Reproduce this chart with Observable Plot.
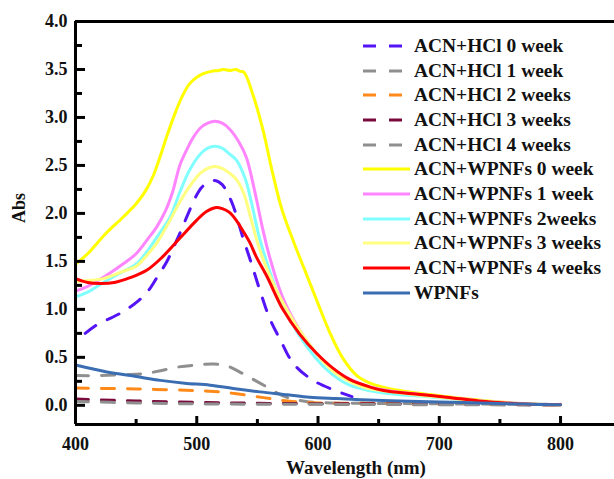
<!DOCTYPE html>
<html><head><meta charset="utf-8">
<script src="https://cdn.jsdelivr.net/npm/d3@7"></script>
<script src="https://cdn.jsdelivr.net/npm/@observablehq/plot@0.6"></script>
<style>
body{margin:0;background:#fff;}
#wrap{position:relative;width:614px;height:479px;overflow:hidden;background:#fff;}
.row{position:absolute;height:24px;display:flex;align-items:center;font:bold 18px "Liberation Serif",serif;color:#111;white-space:nowrap;}
.row svg{margin-right:4px;flex:none;}
.row span{display:inline-block;transform:scaleX(1.08);transform-origin:left center;}
</style></head><body><div id="wrap"></div>
<script>
// ---- data ----
const seriesNames = ["ACN+HCl 0 week","ACN+HCl 1 week","ACN+HCl 2 weeks","ACN+HCl 3 weeks","ACN+HCl 4 weeks",
  "ACN+WPNFs 0 week","ACN+WPNFs 1 week","ACN+WPNFs 2weeks","ACN+WPNFs 3 weeks","ACN+WPNFs 4 weeks","WPNFs"];
const seriesColors = ["#5514f5","#8f8f8f","#ff8a1a","#7a0a3c","#8f8f8f",
  "#ffff00","#ff85ff","#80ffff","#ffff80","#ff0000","#3b6db3"];
const seriesDashed = [true,true,true,true,true,false,false,false,false,false,false];

const hcl0_nm  = [408,419,431,441,452,461,468,475,481,487,493,499,504,510,516,521,525,530,534,538,545,552,560,569,580,596,613,628];
const hcl0_abs = [0.75,0.85,0.92,0.99,1.09,1.21,1.35,1.49,1.65,1.82,2.00,2.17,2.27,2.33,2.34,2.30,2.22,2.08,1.92,1.75,1.48,1.20,0.91,0.68,0.43,0.26,0.16,0.09];

const hcl1_nm  = [400,420,440,456,470,485,500,514,525,538,548,558,566,575,590,610,650,700,750,800];
const hcl1_abs = [0.31,0.31,0.32,0.33,0.36,0.40,0.42,0.43,0.41,0.33,0.26,0.19,0.13,0.08,0.04,0.025,0.02,0.015,0.012,0.01];

const hcl2_nm  = [400,450,497,514,533,555,575,600,650,700,750,800];
const hcl2_abs = [0.18,0.17,0.155,0.145,0.12,0.08,0.045,0.025,0.02,0.015,0.01,0.005];

const hcl3_nm  = [400,450,505,560,650,800];
const hcl3_abs = [0.065,0.045,0.03,0.02,0.015,0.005];

const hcl4_nm  = [400,450,500,600,800];
const hcl4_abs = [0.04,0.025,0.015,0.01,0.003];

const w0_nm  = [400,410,425,440,450,458,464,470,476,482,488,494,500,506,512,518,522,528,532,536,539,546,555,562,570,580,590,600,610,620,632,645,660,680,700,720,740,760,780,800];
const w0_abs = [1.47,1.58,1.79,1.97,2.10,2.24,2.39,2.60,2.83,3.04,3.22,3.35,3.42,3.46,3.48,3.49,3.50,3.49,3.50,3.48,3.47,3.25,2.85,2.45,2.05,1.70,1.38,1.06,0.75,0.50,0.31,0.22,0.17,0.13,0.10,0.07,0.045,0.025,0.012,0.005];

const w1_nm  = [400,410,425,440,450,460,467,474,480,486,492,497,503,509,515,521,527,535,541,548,554,560,571,585,599,612,625,640,660,680,700,720,740,760,780,800];
const w1_abs = [1.19,1.24,1.35,1.48,1.58,1.74,1.86,2.02,2.22,2.50,2.67,2.79,2.89,2.94,2.96,2.94,2.88,2.74,2.58,2.22,1.86,1.55,1.12,0.78,0.53,0.38,0.28,0.20,0.15,0.12,0.09,0.065,0.04,0.025,0.012,0.005];

const w2_nm  = [400,410,423,440,450,460,467,478,486,494,503,509,515,521,527,533,540,545,551,558,565,571,585,599,612,626,640,660,680,700,720,740,760,780,800];
const w2_abs = [1.13,1.18,1.28,1.40,1.47,1.62,1.75,1.96,2.22,2.45,2.62,2.68,2.70,2.68,2.62,2.55,2.36,2.12,1.78,1.48,1.22,1.04,0.72,0.48,0.32,0.21,0.16,0.12,0.10,0.08,0.06,0.04,0.022,0.01,0.003];

const w3_nm  = [400,410,423,440,450,460,467,478,486,494,503,509,515,521,527,533,539,545,552,563,575,588,600,612,626,640,660,680,700,720,740,760,780,800];
const w3_abs = [1.29,1.30,1.32,1.40,1.45,1.58,1.69,1.93,2.12,2.28,2.42,2.47,2.49,2.47,2.42,2.35,2.20,1.93,1.62,1.27,0.98,0.72,0.52,0.36,0.25,0.18,0.14,0.11,0.085,0.06,0.04,0.022,0.01,0.004];

const w4_nm  = [400,410,420,432,445,459,472,486,500,508,515,521,527,533,538,544,549,558,571,585,599,612,626,643,654,678,706,733,761,800];
const w4_abs = [1.32,1.28,1.27,1.28,1.33,1.41,1.55,1.74,1.93,2.02,2.06,2.05,2.01,1.92,1.82,1.69,1.55,1.34,1.00,0.74,0.54,0.39,0.27,0.19,0.155,0.12,0.085,0.045,0.02,0.005];

const wp_nm  = [400,425,450,470,490,511,530,552,575,593,615,635,660,700,734,770,800];
const wp_abs = [0.42,0.35,0.30,0.26,0.23,0.21,0.175,0.14,0.11,0.085,0.07,0.058,0.048,0.035,0.025,0.013,0.005];

const xMajor = [400,500,600,700,800];
const xMinor = [450,550,650,750];
const yMajor = [0,0.5,1,1.5,2,2.5,3,3.5,4];
const yMinor = [0.25,0.75,1.25,1.75,2.25,2.75,3.25,3.75];
const xDomain = [400,844.5];
const yDomain = [-0.2,4.0];

// ---- build ----
const nmArrays  = [hcl0_nm,hcl1_nm,hcl2_nm,hcl3_nm,hcl4_nm,w0_nm,w1_nm,w2_nm,w3_nm,w4_nm,wp_nm];
const absArrays = [hcl0_abs,hcl1_abs,hcl2_abs,hcl3_abs,hcl4_abs,w0_abs,w1_abs,w2_abs,w3_abs,w4_abs,wp_abs];
const series = seriesNames.map((name,i)=>({
  name, color: seriesColors[i], dashed: seriesDashed[i],
  rows: nmArrays[i].map((nm,j)=>({nm, abs: absArrays[i][j]}))
}));

const lineMarks = series.map(s => Plot.line(s.rows, {
  x:"nm", y:"abs", stroke: s.color, strokeWidth: 3,
  strokeDasharray: s.dashed ? "13,13" : null, curve: "catmull-rom"
}));

const blank = () => "";
const tk = {tickFormat: blank, stroke: "#000", strokeWidth: 3};
const chart = Plot.plot({
  width: 614, height: 479,
  marginLeft: 75, marginRight: 0, marginTop: 21, marginBottom: 55,
  style: {fontFamily: "'Liberation Serif', serif", fontWeight: "bold", fontSize: "18px", color: "#111", background: "#fff"},
  x: {domain: xDomain, label: null},
  y: {domain: yDomain, label: null},
  marks: [
    ...lineMarks,
    Plot.axisX(xMajor, {tickSize: 0, tickPadding: 13, tickFormat: d3.format("d"), fontSize: 18}),
    Plot.axisY(yMajor, {tickSize: 0, tickPadding: 8, tickFormat: d3.format(".1f"), fontSize: 18}),
    Plot.axisX(xMajor, {tickSize: 8, dy: -8, ...tk}),
    Plot.axisX(xMinor, {tickSize: 5, dy: -5, ...tk}),
    Plot.axisY(yMajor, {tickSize: 10, dx: 10, ...tk}),
    Plot.axisY(yMinor, {tickSize: 7, dx: 7, ...tk}),
    Plot.ruleX([xDomain[0]], {strokeWidth: 3, stroke: "#000"}),
    Plot.ruleY([yDomain[0]], {strokeWidth: 3, stroke: "#000"}),
    Plot.ruleY([yDomain[1]], {strokeWidth: 3, stroke: "#000"}),
    Plot.text(["Wavelength (nm)"], {frameAnchor: "bottom", dx: 11, dy: 43, lineAnchor: "middle", fontSize: 19, fontWeight: "bold"}),
    Plot.text(["Abs"], {frameAnchor: "left", rotate: -90, dx: -56, lineAnchor: "middle", fontSize: 18, fontWeight: "bold"})
  ]
});
const wrap = document.getElementById("wrap");
wrap.appendChild(chart);

// legend
const rowY = [46,71,95,120,145,169,194,219,243,268,293];
series.forEach((s,i)=>{
  const row = document.createElement("div");
  row.className = "row";
  row.style.left = "363px";
  row.style.top = (rowY[i]-12) + "px";
  row.innerHTML = `<svg width="47" height="10"><line x1="0" y1="5" x2="47" y2="5" stroke="${s.color}" stroke-width="3" ${s.dashed ? 'stroke-dasharray="13,13"' : ''}/></svg><span>${s.name}</span>`;
  wrap.appendChild(row);
});
</script></body></html>
